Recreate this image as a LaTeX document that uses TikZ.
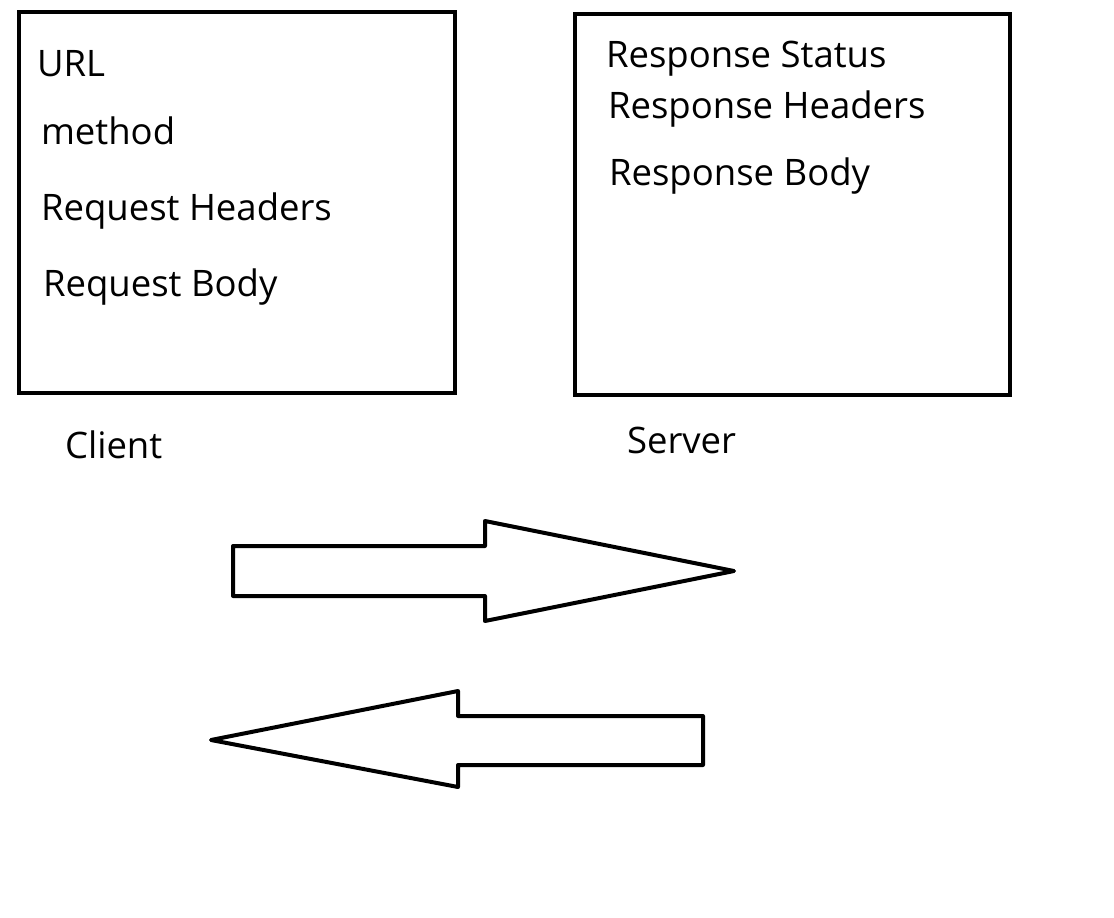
\documentclass[tikz,border=0pt]{standalone}
\usepackage{fontspec}
\setmainfont{Open Sans}
\begin{document}
\begin{tikzpicture}[x=1pt, y=-1pt, line width=4pt, line join=miter,
    lbl/.style={anchor=base west, inner sep=0pt, font=\fontsize{36.5}{44}\selectfont}]

    \useasboundingbox (0,0) rectangle (1114,918);

    % the two boxes
    \draw (19,12) rectangle (455,393);
    \draw (575,14) rectangle (1010,395);

    % client side
    \node[lbl] (url)     at (35,76)  {URL};
    \node[lbl] (method)  at (39,144) {method};
    \node[lbl] (reqhead) at (39,220) {Request Headers};
    \node[lbl] (reqbody) at (41,296) {Request Body};
    \node[lbl] (client)  at (63,458) {Client};

    % server side
    \node[lbl] (resstat) at (604,67)  {Response Status};
    \node[lbl] (reshead) at (606,118) {Response Headers};
    \node[lbl] (resbody) at (607,185) {Response Body};
    \node[lbl] (server)  at (625,453) {Server};

    % request goes right
    \draw[line join=round] (233,546) -- (485,546) -- (485,521) -- (734,571) -- (485,621) -- (485,596) -- (233,596) -- cycle;
    % response comes back
    \draw[line join=round] (703,716) -- (458,716) -- (458,691) -- (211,740) -- (458,787) -- (458,765) -- (703,765) -- cycle;
\end{tikzpicture}
\end{document}
